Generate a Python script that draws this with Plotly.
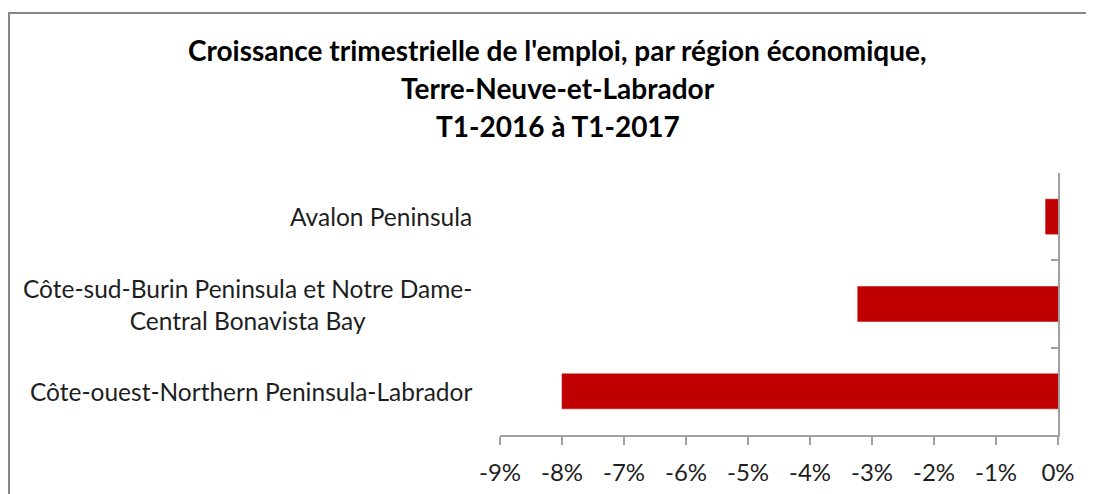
import plotly.graph_objects as go

# ---- data ----
categories = [
    "Côte-ouest-Northern Peninsula-Labrador",
    "Côte-sud-Burin Peninsula et Notre Dame-<br>Central Bonavista Bay",
    "Avalon Peninsula",
]
growth = [-0.080, -0.0323, -0.0020]
tick_values = [-0.09, -0.08, -0.07, -0.06, -0.05, -0.04, -0.03, -0.02, -0.01, 0.0]
tick_labels = ["-9%", "-8%", "-7%", "-6%", "-5%", "-4%", "-3%", "-2%", "-1%", "0%"]
title_lines = [
    "Croissance trimestrielle de l'emploi, par région économique,",
    "Terre-Neuve-et-Labrador",
    "T1-2016 à T1-2017",
]

FONT = "Lato, 'Open Sans', sans-serif"
TXT = "#1e1e1e"
OFF = 8  # page body margin
W, H = 1094, 494
# target plot area in page pixels: x 500..1058, y 173..435
L, R, T, B = 500 - OFF, W - (1058 - OFF), 173 - OFF, H - (435 - OFF)
pw, ph = W - L - R, H - T - B

def px_x(px):
    return (px - OFF - L) / pw

def px_y(py):
    return (H - B - (py - OFF)) / ph

fig = go.Figure()
fig.add_trace(go.Bar(
    x=growth, y=categories, orientation="h",
    marker=dict(color="#C00000", line=dict(color="#C00000", width=0.5)),
    width=0.4, hoverinfo="x+y",
))

annotations = []
for i, line in enumerate(title_lines):
    annotations.append(dict(
        text="<b>" + line + "</b>", xref="paper", yref="paper",
        x=px_x(557.5), y=px_y([50, 88, 126][i]), xanchor="center", yanchor="middle",
        showarrow=False, font=dict(family=FONT, size=28, color="#000000"),
    ))
for c in categories:
    annotations.append(dict(
        text=c, xref="paper", yref="y", x=px_x(474), y=c,
        xanchor="right", yanchor="middle", align="center", showarrow=False,
        font=dict(family=FONT, size=24.5, color=TXT),
    ))

fig.update_layout(
    width=W, height=H, autosize=False,
    margin=dict(l=L, r=R, t=T, b=B, pad=0),
    paper_bgcolor="white", plot_bgcolor="white",
    showlegend=False,
    font=dict(family=FONT, size=24, color=TXT),
    xaxis=dict(
        range=[-0.09, 0], tickvals=tick_values, ticktext=tick_labels,
        showgrid=False, zeroline=False, showline=True, linecolor="#A0A0A0", linewidth=1.5,
        ticks="outside", ticklen=8, tickcolor="#A0A0A0", tickwidth=1.5,
        ticklabelstandoff=7, tickfont=dict(family=FONT, size=24, color=TXT),
        fixedrange=True,
    ),
    yaxis=dict(
        type="category", categoryorder="array", categoryarray=categories,
        range=[-0.5, 2.5], side="right", showticklabels=False,
        showgrid=False, zeroline=False, showline=True, linecolor="#A0A0A0", linewidth=1.5,
        ticks="inside", tickson="boundaries", ticklen=7, tickcolor="#A0A0A0", tickwidth=1.5,
        fixedrange=True,
    ),
    annotations=annotations,
    shapes=[dict(
        type="rect", xref="paper", yref="paper",
        x0=px_x(9), x1=px_x(1120), y0=px_y(520), y1=px_y(13),
        line=dict(color="#878787", width=2), fillcolor="rgba(0,0,0,0)", layer="below",
    )],
)

fig.write_html("out.html")
